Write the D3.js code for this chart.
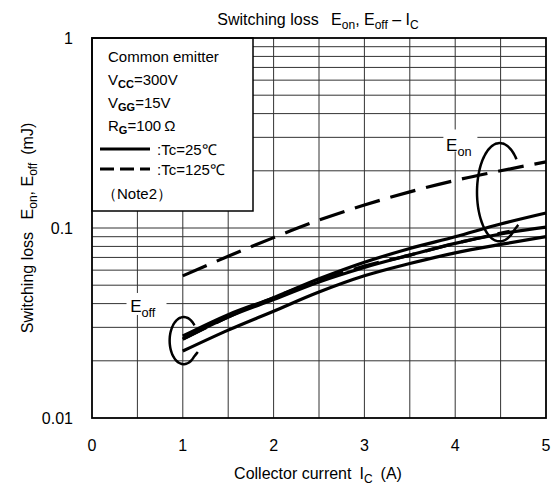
<!DOCTYPE html>
<html>
<head>
<meta charset="utf-8">
<script src="https://cdn.jsdelivr.net/npm/d3@7"></script>
<style>
  body { margin: 0; background: #fff; }
  text { font-family: "Liberation Sans", Arial, sans-serif; fill: #000; }
</style>
</head>
<body>
<svg id="chart"></svg>
<script>
var w = 555, h = 489; // canvas size

// Data (collector current in A, loss in mJ)
var ic = [1, 1.5, 2, 2.5, 3, 3.5, 4, 4.5, 5];
var eon125 = [0.056, 0.071, 0.089, 0.11, 0.132, 0.155, 0.178, 0.2, 0.223];
var solidTop = [0.027, 0.035, 0.043, 0.054, 0.066, 0.078, 0.09, 0.105, 0.12];
var solidMid = [0.026, 0.034, 0.042, 0.052, 0.062, 0.072, 0.083, 0.093, 0.101];
var solidLow = [0.0225, 0.029, 0.0365, 0.046, 0.056, 0.065, 0.074, 0.082, 0.09];
var icDash = [1, 1.5, 2, 2.5, 3, 3.5, 4, 4.6];
var dashLow = [0.026, 0.034, 0.043, 0.053, 0.063, 0.072, 0.083, 0.096];

var xTicks = [0, 1, 2, 3, 4, 5];
var yTicks = [0.01, 0.1, 1];
var yTickLabels = ["0.01", "0.1", "1"];

var svg = d3.select("#chart").attr("width", w).attr("height", h);

var x = d3.scaleLinear().domain([0, 5]).range([92, 546]);
var y = d3.scaleLog().domain([0.01, 1]).range([418, 38]);

// Grid lines
var grid = svg.append("g").attr("stroke", "#333").attr("stroke-width", 1);
grid.selectAll("line.v").data(d3.range(0.5, 5, 0.5)).enter().append("line")
  .attr("x1", function(d) { return x(d); }).attr("x2", function(d) { return x(d); })
  .attr("y1", y(0.01)).attr("y2", y(1));
var hGrid = [];
[0.01, 0.1].forEach(function(dec) {
  for (var k = 2; k <= 9; k++) hGrid.push(dec * k);
});
hGrid.push(0.1);
grid.selectAll("line.h").data(hGrid).enter().append("line")
  .attr("y1", function(d) { return y(d); }).attr("y2", function(d) { return y(d); })
  .attr("x1", x(0)).attr("x2", x(5));

// Series
var line = d3.line().curve(d3.curveMonotoneX)
  .x(function(d) { return x(d[0]); })
  .y(function(d) { return y(d[1]); });
var series = [
  { xs: ic, ys: eon125, dash: "26,11" },
  { xs: ic, ys: solidTop, dash: null },
  { xs: ic, ys: solidMid, dash: null },
  { xs: icDash, ys: dashLow, dash: "26,11" },
  { xs: ic, ys: solidLow, dash: null }
];
svg.append("g").selectAll("path").data(series).enter().append("path")
  .attr("d", function(s) { return line(s.xs.map(function(v, i) { return [v, s.ys[i]]; })); })
  .attr("fill", "none").attr("stroke", "#000").attr("stroke-width", 3.2)
  .attr("stroke-dasharray", function(s) { return s.dash; });

// Label helper: text with subscript
function subLabel(g, base, sub, px, py, size) {
  var t = g.append("text").attr("x", px).attr("y", py).style("font-size", size + "px");
  t.append("tspan").text(base);
  t.append("tspan").attr("dy", 5).style("font-size", (size * 0.75) + "px").text(sub);
  return t;
}

// Curve group ellipses (open "C" shapes), defined in data units
function cArc(cx, rxv, yTop, yBot, a0, a1) {
  var cy = (y(yTop) + y(yBot)) / 2, ry = (y(yBot) - y(yTop)) / 2;
  var pts = d3.range(a0, a1 - 1, -4).map(function(a) {
    var r = a * Math.PI / 180;
    return [x(cx) + (x(rxv) - x(0)) * Math.cos(r), cy + ry * Math.sin(r)];
  });
  var end = pts[pts.length - 1];
  pts.push([end[0] + 4, end[1] - 5]); // small hook at the lower end
  svg.append("path").attr("d", d3.line().curve(d3.curveBasis)(pts))
    .attr("fill", "none").attr("stroke", "#000").attr("stroke-width", 2.5);
}
cArc(4.49, 0.25, 0.28, 0.085, -42, -312);
cArc(1.01, 0.155, 0.034, 0.0192, -40, -318);

// E_on / E_off labels with white backdrop over the grid
var lab = svg.append("g");
lab.append("rect").attr("x", x(3.87)).attr("y", y(0.33)).attr("width", 34).attr("height", 22).attr("fill", "#fff");
subLabel(lab, "E", "on", x(3.9), y(0.255), 17);
lab.append("rect").attr("x", x(0.38)).attr("y", y(0.0455)).attr("width", 40).attr("height", 22).attr("fill", "#fff");
subLabel(lab, "E", "off", x(0.42), y(0.036), 17);

// Legend box
var leg = svg.append("g");
leg.append("rect").attr("x", x(0)).attr("y", y(1)).attr("width", 161).attr("height", 173)
  .attr("fill", "#fff").attr("stroke", "#000").attr("stroke-width", 1.5);
var lx = 108;
leg.append("text").attr("x", lx).attr("y", 62).style("font-size", "15px").text("Common emitter");
var t1 = leg.append("text").attr("x", lx).attr("y", 85).style("font-size", "15px");
t1.append("tspan").text("V");
t1.append("tspan").attr("dy", 3).style("font-size", "11px").style("font-weight", "bold").text("CC");
t1.append("tspan").attr("dy", -3).text("=300V");
var t2 = leg.append("text").attr("x", lx).attr("y", 108).style("font-size", "15px");
t2.append("tspan").text("V");
t2.append("tspan").attr("dy", 3).style("font-size", "11px").style("font-weight", "bold").text("GG");
t2.append("tspan").attr("dy", -3).text("=15V");
var t3 = leg.append("text").attr("x", lx).attr("y", 131).style("font-size", "15px");
t3.append("tspan").text("R");
t3.append("tspan").attr("dy", 3).style("font-size", "11px").style("font-weight", "bold").text("G");
t3.append("tspan").attr("dy", -3).text("=100\u2009\u03A9");
leg.append("line").attr("x1", 100).attr("x2", 150).attr("y1", 149).attr("y2", 149)
  .attr("stroke", "#000").attr("stroke-width", 3);
leg.append("text").attr("x", 157).attr("y", 155).style("font-size", "15px").text(":Tc=25\u2103");
leg.append("line").attr("x1", 100).attr("x2", 150).attr("y1", 169).attr("y2", 169)
  .attr("stroke", "#000").attr("stroke-width", 3).attr("stroke-dasharray", "14,6");
leg.append("text").attr("x", 157).attr("y", 175).style("font-size", "15px").text(":Tc=125\u2103");
leg.append("text").attr("x", 102).attr("y", 199).style("font-size", "15px").text("\uFF08Note2\uFF09");

// Frame
svg.append("rect").attr("x", x(0)).attr("y", y(1)).attr("width", x(5) - x(0)).attr("height", y(0.01) - y(1))
  .attr("fill", "none").attr("stroke", "#000").attr("stroke-width", 1.8);

// Tick labels
svg.append("g").selectAll("text").data(xTicks).enter().append("text")
  .attr("x", function(d) { return x(d); }).attr("y", 451)
  .attr("text-anchor", "middle").style("font-size", "16px")
  .text(function(d) { return d; });
svg.append("g").selectAll("text").data(yTicks).enter().append("text")
  .attr("x", 73).attr("y", function(d) { return y(d) + 6; })
  .attr("text-anchor", "end").style("font-size", "16px")
  .text(function(d, i) { return yTickLabels[i]; });

// Titles
var title = svg.append("text").attr("x", 318).attr("y", 25).attr("text-anchor", "middle").style("font-size", "16px");
title.append("tspan").text("Switching loss\u2002 E");
title.append("tspan").attr("dy", 4).style("font-size", "12px").text("on");
title.append("tspan").attr("dy", -4).text(", E");
title.append("tspan").attr("dy", 4).style("font-size", "12px").text("off");
title.append("tspan").attr("dy", -4).text(" \u2013 I");
title.append("tspan").attr("dy", 4).style("font-size", "12px").text("C");

var xt = svg.append("text").attr("x", 318).attr("y", 479).attr("text-anchor", "middle").style("font-size", "16px");
xt.append("tspan").text("Collector current\u2002I");
xt.append("tspan").attr("dy", 4).style("font-size", "12px").text("C");
xt.append("tspan").attr("dy", -4).text("\u2002(A)");

var yt = svg.append("text").attr("transform", "translate(33," + y(0.1) + ") rotate(-90)")
  .attr("text-anchor", "middle").style("font-size", "16px");
yt.append("tspan").text("Switching loss\u2002 E");
yt.append("tspan").attr("dy", 4).style("font-size", "12px").text("on");
yt.append("tspan").attr("dy", -4).text(", E");
yt.append("tspan").attr("dy", 4).style("font-size", "12px").text("off");
yt.append("tspan").attr("dy", -4).text("\u2002(mJ)");
</script>
</body>
</html>
